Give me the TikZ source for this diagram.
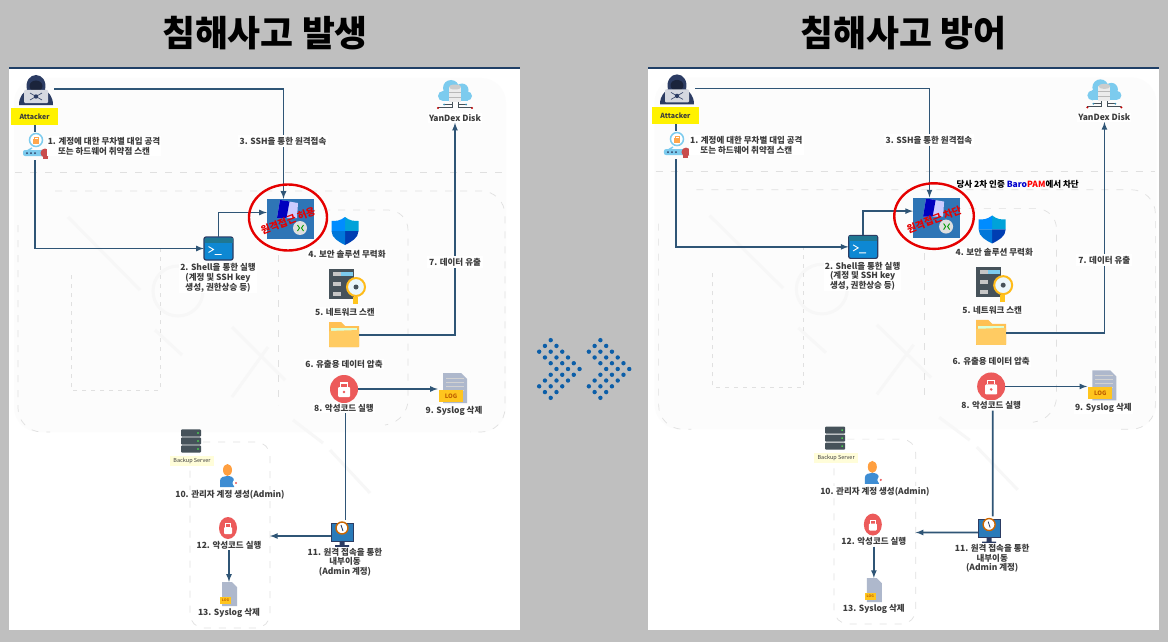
\documentclass[tikz,border=0pt]{standalone}
\usepackage{fontspec}
\setmainfont{Noto Sans CJK KR}
\usepackage{xcolor}
\usepackage{tikz}
\usetikzlibrary{calc, positioning}

\definecolor{pagegray}{HTML}{BFBFBF}
\definecolor{panelfaint}{HTML}{FCFCFC}
\definecolor{topline}{HTML}{1F3F66}
\definecolor{flowblue}{HTML}{2F5576}
\definecolor{dashgray}{HTML}{E0E0E0}
\definecolor{watermark}{HTML}{F7F7F7}
\definecolor{labelgray}{HTML}{3C3C3C}
\definecolor{dotblue}{HTML}{0B5EA8}
\definecolor{hooddark}{HTML}{2C3C63}
\definecolor{lightblue}{HTML}{7CCBEE}
\definecolor{logpaper}{HTML}{AEB8CC}
\definecolor{logyellow}{HTML}{FFC51E}
\definecolor{foldery}{HTML}{FFCB62}
\definecolor{lockred}{HTML}{EC5A5A}
\definecolor{serverdark}{HTML}{46525A}
\definecolor{winblue}{HTML}{2E75B6}

\tikzset{
    steplabel/.style={font=\bfseries\fontsize{8.5}{9.7}\selectfont, text=labelgray, align=center, inner sep=1pt, fill=white},
    flow/.style={draw=flowblue, line width=1.6pt},
    faintdash/.style={draw=dashgray, line width=0.7pt, dash pattern=on 7pt off 8pt},
    hacker/.pic={
        \fill[hooddark] (-17,15) .. controls (-17,6) and (-12,2) .. (-9,0) .. controls (-11,-9) and (-6,-15) .. (0,-15) .. controls (6,-15) and (11,-9) .. (9,0) .. controls (12,2) and (17,6) .. (17,15) -- cycle;
        \fill[hooddark!60!black] (0,-4) ellipse [x radius=6.5, y radius=5.5];
        \fill[hooddark!20!white, rounded corners=1pt] (-12,0) rectangle (12,13);
        \draw[hooddark, line width=0.6pt] (-6,3) -- (6,10) (-6,10) -- (6,3);
        \fill[hooddark] (0,6.5) circle (2.2);
    },
    lockkey/.pic={
        \draw[lightblue, line width=1.4pt] (-3,2) -- (-8,5);
        \fill[white] (1,-6) circle (6.5);
        \draw[lightblue, line width=1.5pt] (1,-6) circle (6.5);
        \fill[orange!70!white] (-2,-7) rectangle (4,-2);
        \draw[orange!70!white, line width=0.8pt] (-1,-7) -- (-1,-9) -- (3,-9) -- (3,-7);
        \fill[lightblue, rounded corners=2pt] (-12,4) rectangle (10,10);
        \foreach \kx in {-8,-4,0}
            \fill[hooddark] (\kx,7) circle (1);
        \fill[lockred!85!black] (10,7) circle (4.5);
        \fill[lockred!85!black] (7.5,7) rectangle (12.5,13);
    },
    shellwin/.pic={
        \fill[cyan!70!blue, draw=hooddark, line width=1.2pt, rounded corners=2pt] (-14.5,-11.5) rectangle (14.5,11.5);
        \fill[hooddark!70!cyan] (-14,-11) rectangle (14,-6);
        \draw[white, line width=0.9pt] (-10,-2) -- (-5,1) -- (-10,4) (-4,6) -- (3,6);
    },
    winbox/.pic={
        \fill[winblue] (-23.5,-20) rectangle (23.5,20);
        \fill[white!80!blue] (-13.5,-1) -- (-10.5,-19) -- (7.5,-16) -- (6.5,-1) -- cycle;
        \fill[blue!75!black] (-13.5,-1) -- (-10.5,-19) -- (-1,-17.5) -- (-4,-1) -- cycle;
        \fill[gray!25!white] (9.5,9) circle (7);
        \draw[green!60!black, line width=0.9pt] (7,6) -- (9,9) -- (7,12) (13,6) -- (11,9) -- (13,12);
    },
    shieldmark/.pic={
        \fill[blue!25!cyan!85!black] (0,-14) .. controls (5,-10) and (9,-10) .. (13.5,-10) -- (13.5,0) -- (0,0) -- cycle;
        \fill[blue!65!cyan!70!black] (0,0) -- (13.5,0) .. controls (13.5,7) and (6,11) .. (0,14) -- cycle;
        \fill[blue!45!cyan] (0,-14) .. controls (-5,-10) and (-9,-10) .. (-13.5,-10) -- (-13.5,0) -- (0,0) -- cycle;
        \fill[blue!45!cyan!85!black] (0,0) -- (-13.5,0) .. controls (-13.5,7) and (-6,11) .. (0,14) -- cycle;
    },
    netscan/.pic={
        \fill[serverdark] (-16,-16) rectangle (9,14);
        \foreach \ry in {-11,-1,9}
            \fill[gray!45!white] (-12,\ry-2) rectangle (-4,\ry+2);
        \fill[lightblue] (-4,-13) rectangle (8,-9);
        \fill[logyellow] (8,12) rectangle (13,19);
        \fill[white!85!lightblue] (11,2) circle (9);
        \draw[logyellow!85!orange, line width=2pt] (11,2) circle (9);
        \fill[serverdark] (11,2) circle (2.5);
    },
    folderico/.pic={
        \fill[foldery!85!orange] (-15,-13) -- (-3,-13) -- (1,-9) -- (15,-9) -- (15,12) -- (-15,12) -- cycle;
        \fill[white!85!green] (-13,-7) rectangle (13,-4);
        \fill[foldery, rounded corners=1pt] (-15,-4) -- (15,-5) -- (15,12) -- (-15,12) -- cycle;
    },
    redlock/.pic={
        \fill[lockred] (0,0) circle (14);
        \fill[white, rounded corners=1pt] (-6,-2) rectangle (6,8);
        \draw[white, line width=1.3pt] (-3.5,-2) -- (-3.5,-6) -- (3.5,-6) -- (3.5,-2);
        \fill[lockred] (0,3) circle (1.4);
    },
    redlocksmall/.pic={
        \fill[lockred] (0,0) ellipse [x radius=9, y radius=11];
        \fill[white, rounded corners=1pt] (-4,-1) rectangle (4,6);
        \draw[white, line width=1pt] (-2.5,-1) -- (-2.5,-4.5) -- (2.5,-4.5) -- (2.5,-1);
    },
    logdoc/.pic={
        \fill[logpaper] (-11,-16) -- (7,-16) -- (13,-10) -- (13,14) -- (-11,14) -- cycle;
        \foreach \ly in {-11,-7,-3,1}
            \draw[gray!35!white, line width=0.7pt] (-8,\ly) -- (10,\ly);
        \fill[logyellow] (-15,1) rectangle (9,13);
        \node[font=\bfseries\fontsize{6}{6}\selectfont, text=orange!75!black, inner sep=0pt] (logtag) at (-3,7) {LOG};
    },
    logsmall/.pic={
        \fill[logpaper] (-7,-12) -- (3,-12) -- (8,-7) -- (8,12) -- (-7,12) -- cycle;
        \fill[logyellow] (-9,3) rectangle (2,10);
        \node[font=\bfseries\fontsize{3.5}{4}\selectfont, text=orange!75!black, inner sep=0pt] (logtag) at (-3.5,6.5) {LOG};
    },
    yandexcloud/.pic={
        \fill[lightblue] (-12,-4) circle (5) (-4,-12) circle (8) (7,-10) circle (6.5) (12.5,-4) circle (4.5);
        \fill[lightblue] (-12,-9) rectangle (12.5,1);
        \fill[white!85!gray] (-6,-13) rectangle (6,2);
        \fill[gray!40!white] (0,-13) ellipse [x radius=6, y radius=2.5];
        \draw[gray!55!white, line width=0.6pt] (-6,-8) -- (6,-8) (-6,-3) -- (6,-3);
        \draw[serverdark, line width=0.8pt] (-3,2) -- (-3,7) -- (-17,7) (3,2) -- (3,7) -- (17,7) (-3,4.5) -- (-11,4.5) (3,4.5) -- (11,4.5);
        \fill[red!75!black] (-17,8) circle (1.2) (17,8) circle (1.2);
        \fill[cyan!70!black] (-11,4.5) circle (1) (11,4.5) circle (1);
    },
    backupsrv/.pic={
        \foreach \by in {-8,0,8}
            \fill[serverdark, rounded corners=1pt] (-10,\by-3.6) rectangle (10,\by+3.6);
        \foreach \by in {-8,0,8}
            \fill[green!70!white] (7,\by) circle (0.8);
    },
    adminperson/.pic={
        \fill[orange!75!white] (-0.5,-5) ellipse [x radius=4.5, y radius=6];
        \fill[cyan!60!blue!80!white] (-8,12) -- (-8,6) .. controls (-8,2) and (-4,1) .. (-1,1) .. controls (3,1) and (6,2) .. (6,6) -- (6,12) -- cycle;
        \fill[white] (8,8) circle (3.5);
        \fill[lockred] (8,8) circle (1.2);
    },
    monitorico/.pic={
        \fill[cyan!65!blue!85!black, draw=hooddark, line width=0.9pt] (-11,-9) rectangle (11,9);
        \fill[hooddark] (-2.5,9) rectangle (2.5,13) (-7,13) rectangle (7,15);
        \fill[white] (0,-4) circle (6);
        \draw[orange!80!black, line width=1.4pt] (0,-4) circle (6);
        \draw[hooddark, line width=0.8pt] (-1,-7) -- (1,-1);
    },
}

% 패널 내용
\newcommand{\panelbody}[2]{
    % 점선 영역
    \fill[panelfaint, rounded corners=25pt] (14,78) rectangle (506,432);
    \draw[watermark, line width=3pt] (68,217) -- (140,290) (155,330) -- (182,355) (268,347) -- (232,397) (232,327) -- (285,380) (293,420) -- (323,443) (330,450) -- (370,493) (178,291) circle (25);
    \draw[faintdash] (15,172) -- (505,172);
    \draw[faintdash, rounded corners=24pt] (55,191) -- (505,191) -- (505,432) -- (470,432);
    \draw[faintdash, rounded corners=24pt] (18,225) -- (18,432) -- (50,432);
    \draw[faintdash, rounded corners=20pt] (278,210) -- (408,210) -- (408,420) -- (385,425);
    \draw[faintdash] (278,255) -- (278,405);
    \draw[faintdash, dash pattern=on 4pt off 5pt] (160,248) -- (160,390) -- (71,390) -- (71,275);
    \draw[faintdash, rounded corners=14pt] (203,442) -- (270,442) -- (270,628) -- (190,628) -- (190,470);

    % 아이콘
    \node[inner sep=0pt, minimum width=36pt, minimum height=32pt] (attacker) at (36,89) {};
    \pic at (36,90) {hacker};
    \node[fill=yellow, font=\bfseries\fontsize{7}{8}\selectfont, text=labelgray, minimum width=47pt, minimum height=17pt, inner sep=0pt] (attackertag) at (34.5,116.5) {Attacker};
    \node[inner sep=0pt, minimum width=24pt, minimum height=28pt] (lockkey) at (35,146) {};
    \pic at (35,146) {lockkey};
    \node[inner sep=0pt, minimum width=29pt, minimum height=23pt] (shell) at (218.5,248.5) {};
    \pic at (218.5,248.5) {shellwin};
    \node[inner sep=0pt, minimum width=47pt, minimum height=40pt] (winbox) at (290.5,219) {};
    \pic at (290.5,219) {winbox};
    \node[inner sep=0pt, minimum width=27pt, minimum height=28pt] (shield) at (345,231) {};
    \pic at (345,231) {shieldmark};
    \node[inner sep=0pt, minimum width=36pt, minimum height=34pt] (netscan) at (345,285) {};
    \pic at (345,285) {netscan};
    \node[inner sep=0pt, minimum width=30pt, minimum height=25pt] (folder) at (344,335) {};
    \pic at (344,335) {folderico};
    \node[inner sep=0pt, minimum width=28pt, minimum height=28pt] (malware) at (344,389) {};
    \pic at (344,389) {redlock};
    \node[inner sep=0pt, minimum width=28pt, minimum height=30pt] (syslog) at (452,389) {};
    \pic at (454,389) {logdoc};
    \node[inner sep=0pt, minimum width=36pt, minimum height=32pt] (yandex) at (455,96) {};
    \pic at (455,100) {yandexcloud};
    \node[inner sep=0pt, minimum width=20pt, minimum height=24pt] (backup) at (191,441) {};
    \pic at (191,441) {backupsrv};
    \node[fill=yellow!15!white, font=\fontsize{5.5}{6}\selectfont, text=labelgray, minimum width=44pt, minimum height=10pt, inner sep=0pt] (backuptag) at (192,461) {Backup Server};
    \node[inner sep=0pt, minimum width=18pt, minimum height=22pt] (admin) at (228,475) {};
    \pic at (228,475) {adminperson};
    \node[inner sep=0pt, minimum width=18pt, minimum height=22pt] (malwarebk) at (228,528) {};
    \pic at (228,528) {redlocksmall};
    \node[inner sep=0pt, minimum width=17pt, minimum height=24pt] (syslogbk) at (229,594) {};
    \pic at (229,594) {logsmall};
    \node[inner sep=0pt, minimum width=22pt, minimum height=24pt] (monitor) at (342,532) {};
    \pic at (342,532) {monitorico};

    % 설명
    \node[steplabel] (step1) at (104,146) {1. 계정에 대한 무차별 대입 공격\\또는 하드웨어 취약점 스캔};
    \node[steplabel] (step2) at (218,278) {2. Shell을 통한 실행\\(계정 및 SSH key\\생성, 권한상승 등)};
    \node[steplabel] (step4) at (347,254) {4. 보안 솔루션 무력화};
    \node[steplabel] (step5) at (345,312) {5. 네트워크 스캔};
    \node[steplabel] (step6) at (344,364) {6. 유출용 데이터 압축};
    \node[steplabel] (step8) at (344,408) {8. 악성코드 실행};
    \node[steplabel] (step9) at (454,411) {9. Syslog 삭제};
    \node[steplabel] (yandextag) at (455,118) {YanDex Disk};
    \node[steplabel] (step10) at (230,495) {10. 관리자 계정 생성(Admin)};
    \node[steplabel] (step11) at (345,562) {11. 원격 접속을 통한\\내부이동\\(Admin 계정)};
    \node[steplabel] (step12) at (229,545) {12. 악성코드 실행};
    \node[steplabel] (step13) at (229,613) {13. Syslog 삭제};
    \coordinate (backupedge) at (270,536);

    % 연결선
    \draw[flow, ->] (attacker.east) -| ([xshift=-7pt]winbox.north);
    \draw[flow] (attackertag.south -| lockkey.north) -- (lockkey.north);
    \draw[flow, ->] (lockkey.south) |- (shell.west);
    \draw[flow, ->] (shell.north) |- ([yshift=6.5pt]winbox.west);
    \draw[flow, ->] (folder.east) -| (yandextag.south);
    \draw[flow, ->] (malware.east) -- (syslog.west);
    \draw[flow] ([xshift=1.5pt]step8.south) -- ([xshift=3.5pt]monitor.north);
    \draw[flow, ->] ([yshift=-4pt]monitor.west) -- (backupedge);
    \draw[flow, ->] (step12.south) -- (syslogbk.north);

    \node[steplabel, inner sep=2pt] (step3) at (283,141) {3. SSH을 통한 원격접속};
    \node[steplabel, inner sep=2pt] (step7) at (455,262) {7. 데이터 유출};

    % 빨간 원
    \draw[red!90!black, line width=2.4pt] (288,217.5) ellipse [x radius=39, y radius=33];
    \node[font=\bfseries\fontsize{10}{10}\selectfont, text=red!90!black, rotate=21, inner sep=0pt] (stamp) at (288,221) {#1};
    #2
}

\begin{document}
\begin{tikzpicture}[x=1pt, y=-1pt, >=latex]
    \useasboundingbox (0,0) rectangle (1168,642);
    \fill[pagegray] (0,0) rectangle (1168,642);

    % 제목
    \node[font=\bfseries\fontsize{35.8}{38}\selectfont, inner sep=0pt] (titleleft) at (265,33) {침해사고 발생};
    \node[font=\bfseries\fontsize{35.8}{38}\selectfont, inner sep=0pt] (titleright) at (903.5,33) {침해사고 방어};

    % 패널
    \foreach \px in {9,648} {
        \fill[white] (\px,68) rectangle (\px+511,630);
        \draw[topline, line width=1.2pt] (\px,68) -- (\px+511,68);
    }
    \begin{scope}[name prefix=left-]
        \panelbody{원격접근 허용}{}
    \end{scope}
    \begin{scope}[name prefix=right-, shift={(640.28,0)}, xscale=1.02, yscale=0.9935]
        \panelbody{원격접근 차단}{\node[steplabel, fill=none, text=black] (blocknote) at (370,186) {당사 2차 인증 {\color{blue!80!black}Baro}{\color{red}PAM}에서 차단};}
    \end{scope}

    % 가운데 화살표
    \foreach \cx in {550.7,600.4}
        \foreach \gx/\gy in {0/5,0/-5,-1/4,1/4,-1/-4,1/-4,-2/3,0/3,2/3,-2/-3,0/-3,2/-3,-1/2,1/2,3/2,-1/-2,1/-2,3/-2,0/1,2/1,4/1,0/-1,2/-1,4/-1,1/0,3/0,5/0}
            \fill[dotblue] (\cx+\gx*5.77, 369+\gy*5.77) circle (2.2);
\end{tikzpicture}
\end{document}
